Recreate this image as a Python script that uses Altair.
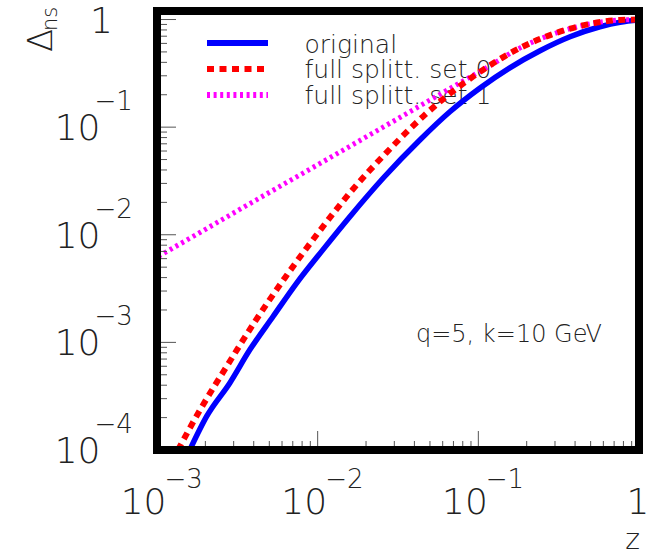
import altair as alt
import pandas as pd

# ---------------- data ----------------
z_orig = [0.00160, 0.00204, 0.00284, 0.00379, 0.00529, 0.00740, 0.0108, 0.0159,
          0.0256, 0.0434, 0.0665, 0.102, 0.157, 0.242, 0.372, 0.571, 0.762, 1.0]
d_orig = [1.0e-4, 2.06e-4, 4.20e-4, 8.57e-4, 1.75e-3, 3.56e-3, 7.28e-3, 1.48e-2,
          3.37e-2, 7.64e-2, 0.139, 0.230, 0.356, 0.513, 0.692, 0.857, 0.944, 0.99]

z_set0 = [0.00135, 0.00183, 0.00272, 0.00407, 0.00626, 0.00986, 0.0159, 0.0266,
          0.0454, 0.0635, 0.0846, 0.118, 0.182, 0.292, 0.472, 0.760, 1.0]
d_set0 = [1.0e-4, 2.28e-4, 6.01e-4, 1.56e-3, 3.99e-3, 1.00e-2, 2.46e-2, 5.74e-2,
          0.126, 0.194, 0.268, 0.376, 0.545, 0.734, 0.897, 0.99, 1.0]

z_set1 = [0.00102, 0.00185, 0.00379, 0.00776, 0.0159, 0.0325, 0.0665, 0.118,
          0.182, 0.292, 0.472, 0.760, 1.0]
d_set1 = [6.30e-3, 1.05e-2, 1.95e-2, 3.60e-2, 6.65e-2, 0.123, 0.228, 0.372,
          0.545, 0.734, 0.897, 0.99, 1.0]

series_names = ["original", "full splitt. set 0", "full splitt. set 1"]

x_major = [0.001, 0.01, 0.1, 1.0]
x_major_exp = ["\u22123", "\u22122", "\u22121"]
y_major = [0.0001, 0.001, 0.01, 0.1, 1.0]
y_major_exp = ["\u22124", "\u22123", "\u22122", "\u22121"]
mantissas = [2, 3, 4, 5, 6, 7, 8, 9]
x_minor = [m * d for d in (0.001, 0.01, 0.1) for m in mantissas]
y_minor = [m * d for d in (0.0001, 0.001, 0.01, 0.1) for m in mantissas]

annotation = "q=5, k=10 GeV"

# ---------------- layout ----------------
W, H = 482, 439
FONT = "DejaVu Sans"
TXT = "#222222"
FW = 200

xs = alt.Scale(type="log", domain=[1e-3, 1.0])
ys = alt.Scale(type="log", domain=[1e-4, 1.2])
X = lambda f: alt.X(f, type="quantitative", scale=xs, axis=None)
Y = lambda f: alt.Y(f, type="quantitative", scale=ys, axis=None)

def line_df(z, d):
    return pd.DataFrame({"z": z, "d": d})

blue = alt.Chart(line_df(z_orig, d_orig)).mark_line(
    color="#0000ff", strokeWidth=5.5, clip=True, interpolate="monotone"
).encode(x=X("z"), y=Y("d"))

magenta = alt.Chart(line_df(z_set1, d_set1)).mark_line(
    color="#ff00ff", strokeWidth=5, strokeDash=[3, 3.6], clip=True, interpolate="monotone"
).encode(x=X("z"), y=Y("d"))

red = alt.Chart(line_df(z_set0, d_set0)).mark_line(
    color="#ff0000", strokeWidth=6, strokeDash=[7, 5.5], clip=True, interpolate="monotone"
).encode(x=X("z"), y=Y("d"))

TICK = "#555555"
xt_major = alt.Chart(pd.DataFrame({"t": x_major})).mark_rule(color=TICK, strokeWidth=1).encode(
    x=X("t"), y=alt.value(H), y2=alt.value(H - 19))
xt_minor = alt.Chart(pd.DataFrame({"t": x_minor})).mark_rule(color=TICK, strokeWidth=1).encode(
    x=X("t"), y=alt.value(H), y2=alt.value(H - 9))
yt_major = alt.Chart(pd.DataFrame({"t": y_major})).mark_rule(color=TICK, strokeWidth=1).encode(
    y=Y("t"), x=alt.value(0), x2=alt.value(19))
yt_minor = alt.Chart(pd.DataFrame({"t": y_minor})).mark_rule(color=TICK, strokeWidth=1).encode(
    y=Y("t"), x=alt.value(0), x2=alt.value(10))

frame = alt.Chart(pd.DataFrame({"a": [0]})).mark_rect(
    stroke="black", strokeWidth=8, fillOpacity=0, fill="white"
).encode(x=alt.value(0), x2=alt.value(W), y=alt.value(0), y2=alt.value(H))

def txt(**kw):
    base = dict(font=FONT, color=TXT, fontWeight=FW)
    base.update(kw)
    return base

# x tick labels
xl_df = pd.DataFrame({"t": x_major[:3], "b": ["10"] * 3, "e": x_major_exp})
xl_base = alt.Chart(xl_df).mark_text(**txt(fontSize=36, align="right", baseline="alphabetic", dx=9.5)).encode(
    x=X("t"), y=alt.value(H + 64), text="b:N")
xl_exp = alt.Chart(xl_df).mark_text(**txt(fontSize=26, align="left", baseline="alphabetic", dx=7.5)).encode(
    x=X("t"), y=alt.value(H + 38), text="e:N")
xl_one = alt.Chart(pd.DataFrame({"t": [1.0], "b": ["1"]})).mark_text(
    **txt(fontSize=36, align="center", baseline="alphabetic", dx=-1)).encode(
    x=X("t"), y=alt.value(H + 64), text="b:N")

# y tick labels
yl_df = pd.DataFrame({"t": y_major[:4], "b": ["10"] * 4, "e": y_major_exp})
yl_base = alt.Chart(yl_df).mark_text(**txt(fontSize=36, align="right", baseline="alphabetic", dy=13)).encode(
    y=Y("t"), x=alt.value(-56.5), text="b:N")
yl_exp = alt.Chart(yl_df).mark_text(**txt(fontSize=26, align="left", baseline="alphabetic", dy=-17)).encode(
    y=Y("t"), x=alt.value(-62.5), text="e:N")
yl_one = alt.Chart(pd.DataFrame({"t": [1.0], "b": ["1"]})).mark_text(
    **txt(fontSize=36, align="center", baseline="alphabetic", dy=13.5)).encode(
    y=Y("t"), x=alt.value(-55.5), text="b:N")

one = pd.DataFrame({"a": [0]})
# axis titles
ytitle_d = alt.Chart(one).mark_text(**txt(fontSize=34, align="left", baseline="alphabetic", angle=270, text="\u0394")).encode(
    x=alt.value(-105), y=alt.value(41))
ytitle_ns = alt.Chart(one).mark_text(**txt(fontSize=21, align="left", baseline="alphabetic", angle=270, text="ns")).encode(
    x=alt.value(-100), y=alt.value(20))
xtitle = alt.Chart(one).mark_text(**txt(fontSize=28, align="right", baseline="alphabetic", text="z")).encode(
    x=alt.value(W + 1), y=alt.value(H + 99))

# legend
leg_y = [32, 58, 84]
leg_blue = alt.Chart(one).mark_rule(color="#0000ff", strokeWidth=6).encode(
    x=alt.value(50), x2=alt.value(111), y=alt.value(leg_y[0]))
leg_red = alt.Chart(one).mark_rule(color="#ff0000", strokeWidth=6, strokeDash=[7, 5.5]).encode(
    x=alt.value(50), x2=alt.value(111), y=alt.value(leg_y[1]))
leg_mag = alt.Chart(one).mark_rule(color="#ff00ff", strokeWidth=6, strokeDash=[3, 3.6]).encode(
    x=alt.value(50), x2=alt.value(111), y=alt.value(leg_y[2]))
leg_text = alt.Chart(pd.DataFrame({"name": series_names, "yy": [41.7, 67, 92.5]})).mark_text(
    **txt(fontSize=25, align="left", baseline="alphabetic")).encode(
    x=alt.value(147.5), y=alt.Y("yy:Q", scale=alt.Scale(domain=[0, H], range=[0, H]), axis=None), text="name:N")

note = alt.Chart(one).mark_text(**txt(fontSize=24, align="left", baseline="alphabetic", text=annotation)).encode(
    x=alt.value(259), y=alt.value(331))

chart = alt.layer(
    leg_text, note,
    blue, magenta, red,
    xt_minor, xt_major, yt_minor, yt_major,
    frame,
    leg_blue, leg_red, leg_mag,
    xl_base, xl_exp, xl_one, yl_base, yl_exp, yl_one,
    ytitle_d, ytitle_ns, xtitle,
).resolve_scale(y="independent").properties(
    width=W, height=H,
    autosize=alt.AutoSizeParams(type="none"),
    padding={"left": 157, "top": 11, "right": 9, "bottom": 102},
    background="white",
).configure_view(strokeWidth=0)

chart.save("out.html", embed_options={"renderer": "svg", "actions": False})
